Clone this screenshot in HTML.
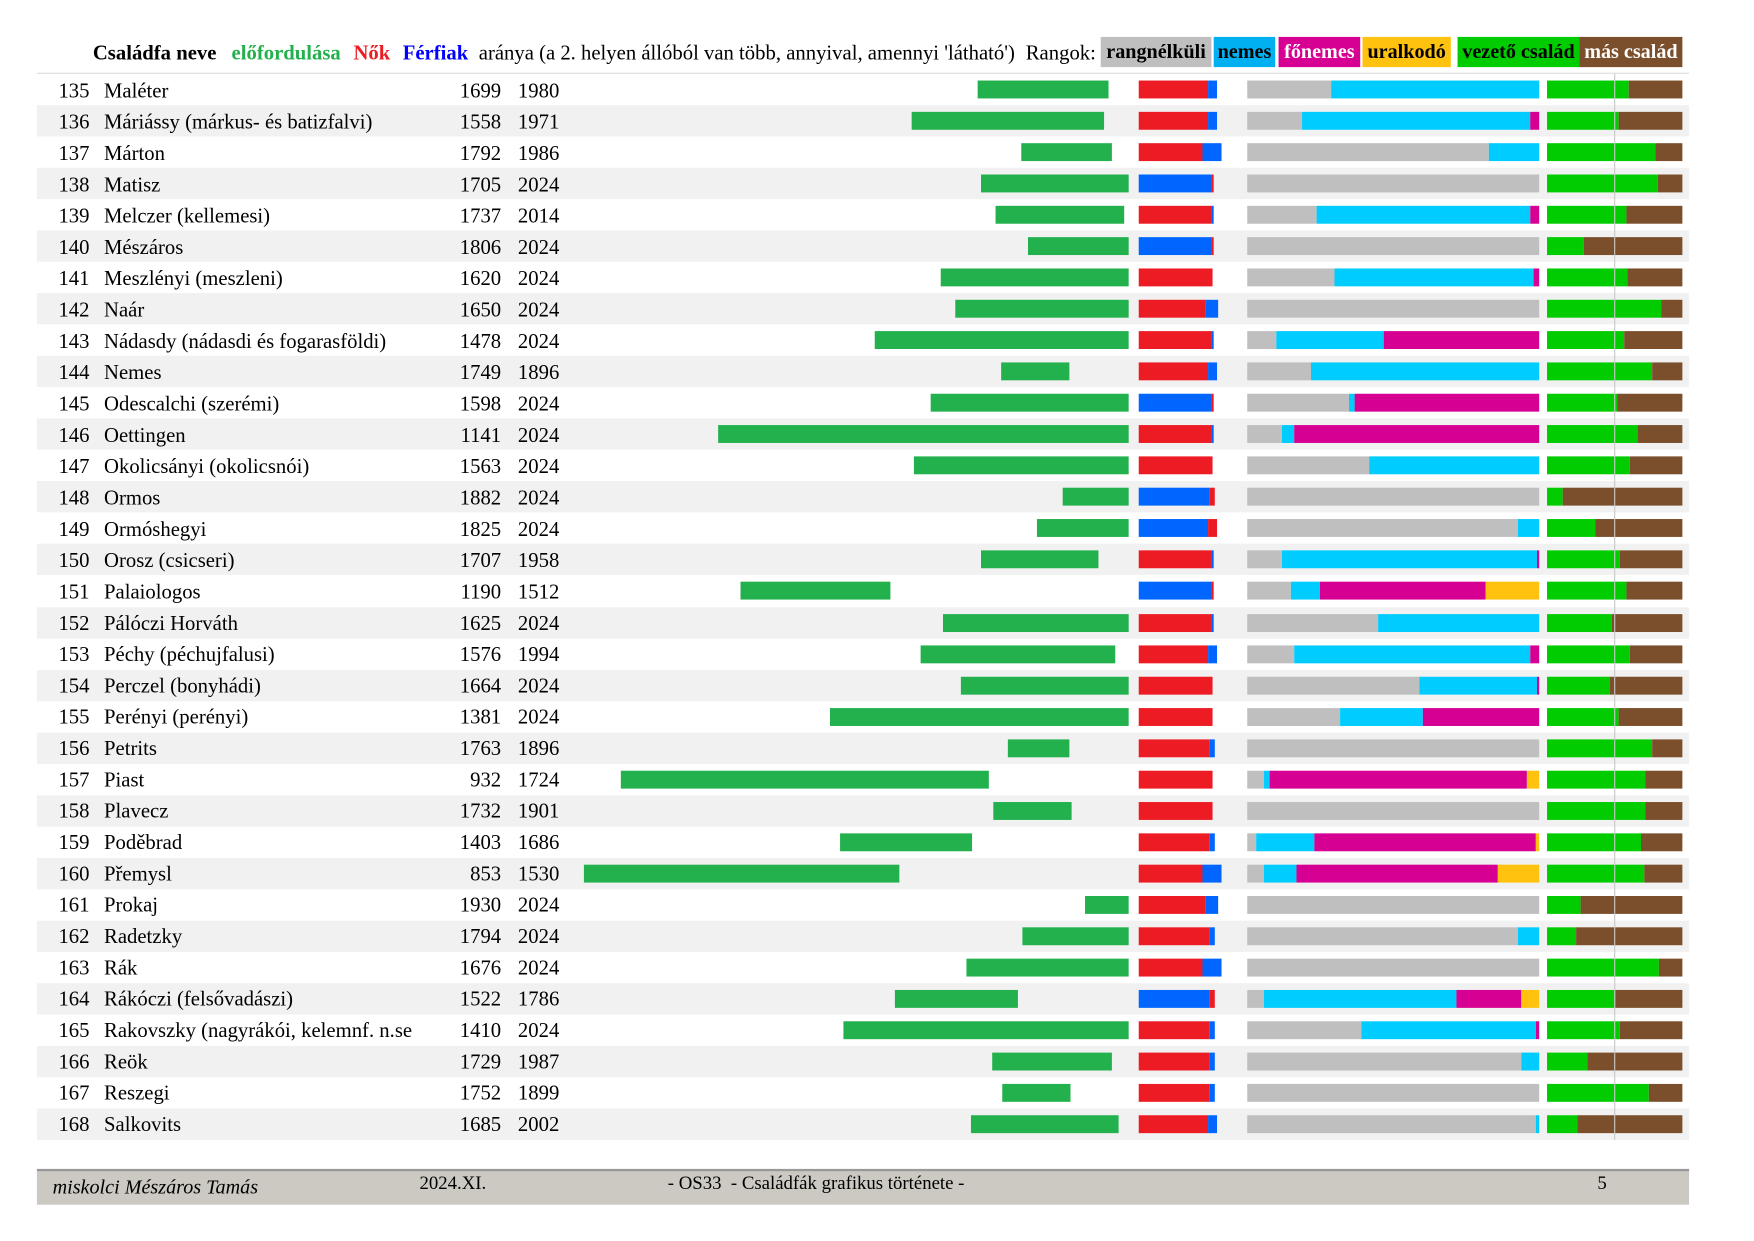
<!DOCTYPE html>
<html><head><meta charset="utf-8"><style>
html,body{margin:0;padding:0;background:#fff}
body{width:1754px;height:1240px;overflow:hidden;position:relative}
#p{position:absolute;left:0;top:0;width:1568px;height:1109px;transform:scale(1.1186);transform-origin:0 0;font-family:"Liberation Serif",serif;font-size:18.5px;color:#000}
.h{position:absolute;top:37.5px;line-height:20px;white-space:nowrap}
.lg{position:absolute;top:33px;height:27px;line-height:27px;font-weight:bold;text-align:center;white-space:nowrap;font-size:18px;overflow:hidden}
.r{position:absolute;left:0;width:1550px;height:28.03px}
.r.e::before{content:"";position:absolute;left:33px;width:1477px;top:0;height:100%;background:#f1f1f1}
.r span{position:absolute;top:5.5px;line-height:21px;white-space:nowrap}
.n{left:0;width:80px;text-align:right}.t{left:93px}.a{left:390px;width:58px;text-align:right}.b{left:463px}
.r i,.r b{position:absolute;top:6px;height:16px;display:block}
.g{background:#23b14d;left:calc(166.4px + var(--a)*0.4165px);width:calc((var(--b) - var(--a))*0.4165px)}
.R{background:#ed1c24}.B{background:#0066ff}.Y{background:#bfbfbf}.C{background:#00ccff}.M{background:#d60093}.O{background:#ffc20e}.V{background:#00cc00}.W{background:#7b4f2c}
</style></head><body><div id="p">
<div class="h" style="left:83px;font-weight:bold">Családfa neve</div>
<div class="h" style="left:207px;font-weight:bold;color:#22b14c">előfordulása</div>
<div class="h" style="left:316px;font-weight:bold;color:#ed1c24">Nők</div>
<div class="h" style="left:360px;font-weight:bold;color:#0000ff">Férfiak</div>
<div class="h" style="left:428px">aránya (a 2. helyen állóból van több, annyival, amennyi 'látható')</div>
<div class="h" style="left:917px">Rangok:</div>
<div class="lg" style="left:984px;width:99px;background:#bfbfbf">rangnélküli</div>
<div class="lg" style="left:1085px;width:55px;background:#00b0f0">nemes</div>
<div class="lg" style="left:1143px;width:73px;background:#d60093;color:#fff">főnemes</div>
<div class="lg" style="left:1218px;width:79px;background:#ffc20e">uralkodó</div>
<div class="lg" style="left:1303px;width:109px;background:#00cc00">vezető család</div>
<div class="lg" style="left:1412px;width:92px;background:#7b4f2c;color:#fff">más család</div>
<div style="position:absolute;left:33px;top:65px;width:1477px;height:1px;background:#ddd"></div>

<div class="r" style="top:66px"><span class="n">135</span><span class="t">Maléter</span><span class="a">1699</span><span class="b">1980</span><i class="g" style="--a:1699;--b:1980"></i><b class="R" style="left:1018px;width:62px"></b><b class="B" style="left:1080px;width:8px"></b><b class="Y" style="left:1115px;width:75px"></b><b class="C" style="left:1190px;width:186px"></b><b class="V" style="left:1383px;width:73px"></b><b class="W" style="left:1456px;width:48px"></b></div>
<div class="r e" style="top:94.03px"><span class="n">136</span><span class="t">Máriássy (márkus- és batizfalvi)</span><span class="a">1558</span><span class="b">1971</span><i class="g" style="--a:1558;--b:1971"></i><b class="R" style="left:1018px;width:62px"></b><b class="B" style="left:1080px;width:8px"></b><b class="Y" style="left:1115px;width:49px"></b><b class="C" style="left:1164px;width:204px"></b><b class="M" style="left:1368px;width:8px"></b><b class="V" style="left:1383px;width:64px"></b><b class="W" style="left:1447px;width:57px"></b></div>
<div class="r" style="top:122.06px"><span class="n">137</span><span class="t">Márton</span><span class="a">1792</span><span class="b">1986</span><i class="g" style="--a:1792;--b:1986"></i><b class="R" style="left:1018px;width:57px"></b><b class="B" style="left:1075px;width:17px"></b><b class="Y" style="left:1115px;width:216px"></b><b class="C" style="left:1331px;width:45px"></b><b class="V" style="left:1383px;width:97px"></b><b class="W" style="left:1480px;width:24px"></b></div>
<div class="r e" style="top:150.09px"><span class="n">138</span><span class="t">Matisz</span><span class="a">1705</span><span class="b">2024</span><i class="g" style="--a:1705;--b:2024"></i><b class="B" style="left:1018px;width:65px"></b><b class="R" style="left:1083px;width:2px"></b><b class="Y" style="left:1115px;width:261px"></b><b class="V" style="left:1383px;width:99px"></b><b class="W" style="left:1482px;width:22px"></b></div>
<div class="r" style="top:178.12px"><span class="n">139</span><span class="t">Melczer (kellemesi)</span><span class="a">1737</span><span class="b">2014</span><i class="g" style="--a:1737;--b:2014"></i><b class="R" style="left:1018px;width:65px"></b><b class="B" style="left:1083px;width:2px"></b><b class="Y" style="left:1115px;width:62px"></b><b class="C" style="left:1177px;width:191px"></b><b class="M" style="left:1368px;width:8px"></b><b class="V" style="left:1383px;width:71px"></b><b class="W" style="left:1454px;width:50px"></b></div>
<div class="r e" style="top:206.15px"><span class="n">140</span><span class="t">Mészáros</span><span class="a">1806</span><span class="b">2024</span><i class="g" style="--a:1806;--b:2024"></i><b class="B" style="left:1018px;width:65px"></b><b class="R" style="left:1083px;width:2px"></b><b class="Y" style="left:1115px;width:261px"></b><b class="V" style="left:1383px;width:33px"></b><b class="W" style="left:1416px;width:88px"></b></div>
<div class="r" style="top:234.18px"><span class="n">141</span><span class="t">Meszlényi (meszleni)</span><span class="a">1620</span><span class="b">2024</span><i class="g" style="--a:1620;--b:2024"></i><b class="R" style="left:1018px;width:66px"></b><b class="Y" style="left:1115px;width:78px"></b><b class="C" style="left:1193px;width:178px"></b><b class="M" style="left:1371px;width:5px"></b><b class="V" style="left:1383px;width:72px"></b><b class="W" style="left:1455px;width:49px"></b></div>
<div class="r e" style="top:262.21px"><span class="n">142</span><span class="t">Naár</span><span class="a">1650</span><span class="b">2024</span><i class="g" style="--a:1650;--b:2024"></i><b class="R" style="left:1018px;width:60px"></b><b class="B" style="left:1078px;width:11px"></b><b class="Y" style="left:1115px;width:261px"></b><b class="V" style="left:1383px;width:102px"></b><b class="W" style="left:1485px;width:19px"></b></div>
<div class="r" style="top:290.24px"><span class="n">143</span><span class="t">Nádasdy (nádasdi és fogarasföldi)</span><span class="a">1478</span><span class="b">2024</span><i class="g" style="--a:1478;--b:2024"></i><b class="R" style="left:1018px;width:65px"></b><b class="B" style="left:1083px;width:2px"></b><b class="Y" style="left:1115px;width:26px"></b><b class="C" style="left:1141px;width:96px"></b><b class="M" style="left:1237px;width:139px"></b><b class="V" style="left:1383px;width:69px"></b><b class="W" style="left:1452px;width:52px"></b></div>
<div class="r e" style="top:318.27px"><span class="n">144</span><span class="t">Nemes</span><span class="a">1749</span><span class="b">1896</span><i class="g" style="--a:1749;--b:1896"></i><b class="R" style="left:1018px;width:62px"></b><b class="B" style="left:1080px;width:8px"></b><b class="Y" style="left:1115px;width:57px"></b><b class="C" style="left:1172px;width:204px"></b><b class="V" style="left:1383px;width:94px"></b><b class="W" style="left:1477px;width:27px"></b></div>
<div class="r" style="top:346.3px"><span class="n">145</span><span class="t">Odescalchi (szerémi)</span><span class="a">1598</span><span class="b">2024</span><i class="g" style="--a:1598;--b:2024"></i><b class="B" style="left:1018px;width:65px"></b><b class="R" style="left:1083px;width:2px"></b><b class="Y" style="left:1115px;width:91px"></b><b class="C" style="left:1206px;width:5px"></b><b class="M" style="left:1211px;width:165px"></b><b class="V" style="left:1383px;width:63px"></b><b class="W" style="left:1446px;width:58px"></b></div>
<div class="r e" style="top:374.33px"><span class="n">146</span><span class="t">Oettingen</span><span class="a">1141</span><span class="b">2024</span><i class="g" style="--a:1141;--b:2024"></i><b class="R" style="left:1018px;width:65px"></b><b class="B" style="left:1083px;width:2px"></b><b class="Y" style="left:1115px;width:31px"></b><b class="C" style="left:1146px;width:11px"></b><b class="M" style="left:1157px;width:219px"></b><b class="V" style="left:1383px;width:81px"></b><b class="W" style="left:1464px;width:40px"></b></div>
<div class="r" style="top:402.36px"><span class="n">147</span><span class="t">Okolicsányi (okolicsnói)</span><span class="a">1563</span><span class="b">2024</span><i class="g" style="--a:1563;--b:2024"></i><b class="R" style="left:1018px;width:66px"></b><b class="Y" style="left:1115px;width:109px"></b><b class="C" style="left:1224px;width:152px"></b><b class="V" style="left:1383px;width:74px"></b><b class="W" style="left:1457px;width:47px"></b></div>
<div class="r e" style="top:430.39px"><span class="n">148</span><span class="t">Ormos</span><span class="a">1882</span><span class="b">2024</span><i class="g" style="--a:1882;--b:2024"></i><b class="B" style="left:1018px;width:63px"></b><b class="R" style="left:1081px;width:5px"></b><b class="Y" style="left:1115px;width:261px"></b><b class="V" style="left:1383px;width:14px"></b><b class="W" style="left:1397px;width:107px"></b></div>
<div class="r" style="top:458.42px"><span class="n">149</span><span class="t">Ormóshegyi</span><span class="a">1825</span><span class="b">2024</span><i class="g" style="--a:1825;--b:2024"></i><b class="B" style="left:1018px;width:62px"></b><b class="R" style="left:1080px;width:8px"></b><b class="Y" style="left:1115px;width:242px"></b><b class="C" style="left:1357px;width:19px"></b><b class="V" style="left:1383px;width:43px"></b><b class="W" style="left:1426px;width:78px"></b></div>
<div class="r e" style="top:486.45px"><span class="n">150</span><span class="t">Orosz (csicseri)</span><span class="a">1707</span><span class="b">1958</span><i class="g" style="--a:1707;--b:1958"></i><b class="R" style="left:1018px;width:65px"></b><b class="B" style="left:1083px;width:2px"></b><b class="Y" style="left:1115px;width:31px"></b><b class="C" style="left:1146px;width:228px"></b><b class="M" style="left:1374px;width:2px"></b><b class="V" style="left:1383px;width:65px"></b><b class="W" style="left:1448px;width:56px"></b></div>
<div class="r" style="top:514.48px"><span class="n">151</span><span class="t">Palaiologos</span><span class="a">1190</span><span class="b">1512</span><i class="g" style="--a:1190;--b:1512"></i><b class="B" style="left:1018px;width:65px"></b><b class="R" style="left:1083px;width:2px"></b><b class="Y" style="left:1115px;width:39px"></b><b class="C" style="left:1154px;width:26px"></b><b class="M" style="left:1180px;width:148px"></b><b class="O" style="left:1328px;width:48px"></b><b class="V" style="left:1383px;width:71px"></b><b class="W" style="left:1454px;width:50px"></b></div>
<div class="r e" style="top:542.51px"><span class="n">152</span><span class="t">Pálóczi Horváth</span><span class="a">1625</span><span class="b">2024</span><i class="g" style="--a:1625;--b:2024"></i><b class="R" style="left:1018px;width:65px"></b><b class="B" style="left:1083px;width:2px"></b><b class="Y" style="left:1115px;width:117px"></b><b class="C" style="left:1232px;width:144px"></b><b class="V" style="left:1383px;width:58px"></b><b class="W" style="left:1441px;width:63px"></b></div>
<div class="r" style="top:570.54px"><span class="n">153</span><span class="t">Péchy (péchujfalusi)</span><span class="a">1576</span><span class="b">1994</span><i class="g" style="--a:1576;--b:1994"></i><b class="R" style="left:1018px;width:62px"></b><b class="B" style="left:1080px;width:8px"></b><b class="Y" style="left:1115px;width:42px"></b><b class="C" style="left:1157px;width:211px"></b><b class="M" style="left:1368px;width:8px"></b><b class="V" style="left:1383px;width:74px"></b><b class="W" style="left:1457px;width:47px"></b></div>
<div class="r e" style="top:598.57px"><span class="n">154</span><span class="t">Perczel (bonyhádi)</span><span class="a">1664</span><span class="b">2024</span><i class="g" style="--a:1664;--b:2024"></i><b class="R" style="left:1018px;width:66px"></b><b class="Y" style="left:1115px;width:154px"></b><b class="C" style="left:1269px;width:105px"></b><b class="M" style="left:1374px;width:2px"></b><b class="V" style="left:1383px;width:56px"></b><b class="W" style="left:1439px;width:65px"></b></div>
<div class="r" style="top:626.6px"><span class="n">155</span><span class="t">Perényi (perényi)</span><span class="a">1381</span><span class="b">2024</span><i class="g" style="--a:1381;--b:2024"></i><b class="R" style="left:1018px;width:66px"></b><b class="Y" style="left:1115px;width:83px"></b><b class="C" style="left:1198px;width:74px"></b><b class="M" style="left:1272px;width:104px"></b><b class="V" style="left:1383px;width:64px"></b><b class="W" style="left:1447px;width:57px"></b></div>
<div class="r e" style="top:654.63px"><span class="n">156</span><span class="t">Petrits</span><span class="a">1763</span><span class="b">1896</span><i class="g" style="--a:1763;--b:1896"></i><b class="R" style="left:1018px;width:63px"></b><b class="B" style="left:1081px;width:5px"></b><b class="Y" style="left:1115px;width:261px"></b><b class="V" style="left:1383px;width:94px"></b><b class="W" style="left:1477px;width:27px"></b></div>
<div class="r" style="top:682.66px"><span class="n">157</span><span class="t">Piast</span><span class="a">932</span><span class="b">1724</span><i class="g" style="--a:932;--b:1724"></i><b class="R" style="left:1018px;width:66px"></b><b class="Y" style="left:1115px;width:15px"></b><b class="C" style="left:1130px;width:5px"></b><b class="M" style="left:1135px;width:230px"></b><b class="O" style="left:1365px;width:11px"></b><b class="V" style="left:1383px;width:88px"></b><b class="W" style="left:1471px;width:33px"></b></div>
<div class="r e" style="top:710.69px"><span class="n">158</span><span class="t">Plavecz</span><span class="a">1732</span><span class="b">1901</span><i class="g" style="--a:1732;--b:1901"></i><b class="R" style="left:1018px;width:66px"></b><b class="Y" style="left:1115px;width:261px"></b><b class="V" style="left:1383px;width:88px"></b><b class="W" style="left:1471px;width:33px"></b></div>
<div class="r" style="top:738.72px"><span class="n">159</span><span class="t">Poděbrad</span><span class="a">1403</span><span class="b">1686</span><i class="g" style="--a:1403;--b:1686"></i><b class="R" style="left:1018px;width:63px"></b><b class="B" style="left:1081px;width:5px"></b><b class="Y" style="left:1115px;width:8px"></b><b class="C" style="left:1123px;width:52px"></b><b class="M" style="left:1175px;width:198px"></b><b class="O" style="left:1373px;width:3px"></b><b class="V" style="left:1383px;width:84px"></b><b class="W" style="left:1467px;width:37px"></b></div>
<div class="r e" style="top:766.75px"><span class="n">160</span><span class="t">Přemysl</span><span class="a">853</span><span class="b">1530</span><i class="g" style="--a:853;--b:1530"></i><b class="R" style="left:1018px;width:57px"></b><b class="B" style="left:1075px;width:17px"></b><b class="Y" style="left:1115px;width:15px"></b><b class="C" style="left:1130px;width:29px"></b><b class="M" style="left:1159px;width:180px"></b><b class="O" style="left:1339px;width:37px"></b><b class="V" style="left:1383px;width:87px"></b><b class="W" style="left:1470px;width:34px"></b></div>
<div class="r" style="top:794.78px"><span class="n">161</span><span class="t">Prokaj</span><span class="a">1930</span><span class="b">2024</span><i class="g" style="--a:1930;--b:2024"></i><b class="R" style="left:1018px;width:60px"></b><b class="B" style="left:1078px;width:11px"></b><b class="Y" style="left:1115px;width:261px"></b><b class="V" style="left:1383px;width:30px"></b><b class="W" style="left:1413px;width:91px"></b></div>
<div class="r e" style="top:822.81px"><span class="n">162</span><span class="t">Radetzky</span><span class="a">1794</span><span class="b">2024</span><i class="g" style="--a:1794;--b:2024"></i><b class="R" style="left:1018px;width:63px"></b><b class="B" style="left:1081px;width:5px"></b><b class="Y" style="left:1115px;width:242px"></b><b class="C" style="left:1357px;width:19px"></b><b class="V" style="left:1383px;width:26px"></b><b class="W" style="left:1409px;width:95px"></b></div>
<div class="r" style="top:850.84px"><span class="n">163</span><span class="t">Rák</span><span class="a">1676</span><span class="b">2024</span><i class="g" style="--a:1676;--b:2024"></i><b class="R" style="left:1018px;width:57px"></b><b class="B" style="left:1075px;width:17px"></b><b class="Y" style="left:1115px;width:261px"></b><b class="V" style="left:1383px;width:100px"></b><b class="W" style="left:1483px;width:21px"></b></div>
<div class="r e" style="top:878.87px"><span class="n">164</span><span class="t">Rákóczi (felsővadászi)</span><span class="a">1522</span><span class="b">1786</span><i class="g" style="--a:1522;--b:1786"></i><b class="B" style="left:1018px;width:63px"></b><b class="R" style="left:1081px;width:5px"></b><b class="Y" style="left:1115px;width:15px"></b><b class="C" style="left:1130px;width:172px"></b><b class="M" style="left:1302px;width:58px"></b><b class="O" style="left:1360px;width:16px"></b><b class="V" style="left:1383px;width:61px"></b><b class="W" style="left:1444px;width:60px"></b></div>
<div class="r" style="top:906.9px"><span class="n">165</span><span class="t">Rakovszky (nagyrákói, kelemnf. n.se</span><span class="a">1410</span><span class="b">2024</span><i class="g" style="--a:1410;--b:2024"></i><b class="R" style="left:1018px;width:63px"></b><b class="B" style="left:1081px;width:5px"></b><b class="Y" style="left:1115px;width:102px"></b><b class="C" style="left:1217px;width:156px"></b><b class="M" style="left:1373px;width:3px"></b><b class="V" style="left:1383px;width:65px"></b><b class="W" style="left:1448px;width:56px"></b></div>
<div class="r e" style="top:934.93px"><span class="n">166</span><span class="t">Reök</span><span class="a">1729</span><span class="b">1987</span><i class="g" style="--a:1729;--b:1987"></i><b class="R" style="left:1018px;width:63px"></b><b class="B" style="left:1081px;width:5px"></b><b class="Y" style="left:1115px;width:245px"></b><b class="C" style="left:1360px;width:16px"></b><b class="V" style="left:1383px;width:36px"></b><b class="W" style="left:1419px;width:85px"></b></div>
<div class="r" style="top:962.96px"><span class="n">167</span><span class="t">Reszegi</span><span class="a">1752</span><span class="b">1899</span><i class="g" style="--a:1752;--b:1899"></i><b class="R" style="left:1018px;width:63px"></b><b class="B" style="left:1081px;width:5px"></b><b class="Y" style="left:1115px;width:261px"></b><b class="V" style="left:1383px;width:91px"></b><b class="W" style="left:1474px;width:30px"></b></div>
<div class="r e" style="top:990.99px"><span class="n">168</span><span class="t">Salkovits</span><span class="a">1685</span><span class="b">2002</span><i class="g" style="--a:1685;--b:2002"></i><b class="R" style="left:1018px;width:62px"></b><b class="B" style="left:1080px;width:8px"></b><b class="Y" style="left:1115px;width:258px"></b><b class="C" style="left:1373px;width:3px"></b><b class="V" style="left:1383px;width:27px"></b><b class="W" style="left:1410px;width:94px"></b></div>

<div style="position:absolute;left:1443px;top:66px;width:1px;height:953px;background:#c8c8c8"></div>

<div style="position:absolute;left:33px;top:1045px;width:1477px;height:30px;background:#ccc9c2;border-top:2px solid #999"></div>
<div style="position:absolute;left:47px;top:1051px;font-size:18px;font-style:italic;line-height:20px">miskolci Mészáros Tamás</div>
<div style="position:absolute;left:375px;top:1048px;font-size:16.8px;line-height:20px">2024.XI.</div>
<div style="position:absolute;left:597px;top:1048px;font-size:16.8px;line-height:20px;white-space:pre">- OS33  - Családfák grafikus története -</div>
<div style="position:absolute;left:1428px;top:1048px;font-size:16.8px;line-height:20px">5</div>
</div></body></html>
